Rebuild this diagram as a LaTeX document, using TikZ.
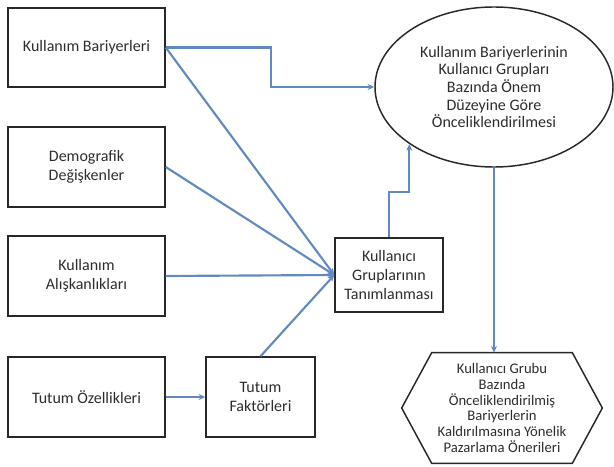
\documentclass[tikz,border=0pt]{standalone}
\usepackage{fontspec}
\setmainfont{Carlito}
\usetikzlibrary{shapes.geometric,arrows.meta}

\definecolor{akis}{RGB}{98,138,192}
\definecolor{cerceve}{RGB}{40,40,40}
\definecolor{yazi}{RGB}{45,45,45}

\tikzset{every picture/.style={line width=0.5pt}}
\tikzset{
  kutu/.style={draw=cerceve,line width=1.1pt,align=center,inner sep=2pt,text=yazi,font=\fontsize{12}{14.5}\selectfont},
  ok/.style={draw=akis,line width=1.6pt,-{Stealth[length=5pt,width=4.5pt]}}
}

\begin{document}
\begin{tikzpicture}[x=0.75pt,y=0.75pt,yscale=-1,xscale=1]
\useasboundingbox (0,0) rectangle (614,467);
% Rectangle
\node [kutu,minimum width=117.75pt,minimum height=59.25pt] (bariyer) at (86.5,47.5) {Kullanım Bariyerleri};
% Rectangle
\node [kutu,minimum width=117.75pt,minimum height=60pt] (demografik) at (86.5,167) {Demografik\\Değişkenler};
% Rectangle
\node [kutu,minimum width=117.75pt,minimum height=60pt] (aliskanlik) at (86.5,276) {Kullanım\\Alışkanlıkları};
% Rectangle
\node [kutu,minimum width=117.75pt,minimum height=60pt] (tutumoz) at (86.5,397) {Tutum Özellikleri};
% Rectangle
\node [kutu,minimum width=81.75pt,minimum height=60pt] (tutumfak) at (260.5,397) {Tutum\\Faktörleri};
% Rectangle
\node [kutu,minimum width=81pt,minimum height=55.5pt] (grup) at (389,275) {Kullanıcı\\Gruplarının\\Tanımlanması};
% Ellipse
\node [kutu,ellipse,inner sep=0pt,minimum width=178.5pt,minimum height=120pt,font=\fontsize{12}{13.2}\selectfont] (oncelik) at (494,87) {Kullanım Bariyerlerinin\\Kullanıcı Grupları\\Bazında Önem\\Düzeyine Göre\\Önceliklendirilmesi};
% Hexagon
\node [align=center,inner sep=0pt,text=yazi,minimum width=150pt,minimum height=82.5pt,font=\fontsize{11}{11.8}\selectfont] (oneri) at (502,408) {Kullanıcı Grubu\\Bazında\\Önceliklendirilmiş\\Bariyerlerin\\Kaldırılmasına Yönelik\\Pazarlama Önerileri};
\draw [cerceve,line width=1.1pt,line join=miter] (oneri.west) -- ([xshift=22.5pt]oneri.north west) -- ([xshift=-22.5pt]oneri.north east) -- (oneri.east) -- ([xshift=-22.5pt]oneri.south east) -- ([xshift=22.5pt]oneri.south west) -- cycle;

% Connectors
\draw [ok] (bariyer.east) -- ++(105,0) |- (oncelik.west);
\draw [ok] (bariyer.east) -- (grup.west);
\draw [ok] (demografik.east) -- (grup.west);
\draw [ok] (aliskanlik.east) -- (grup.west);
\draw [ok] (tutumfak.north) -- (grup.west);
\draw [ok] (tutumoz.east) -- (tutumfak.west);
\draw [ok] (grup.north) -- ++(0,-45) -| (oncelik.south west);
\draw [ok] (oncelik.south) -- (oncelik.south |- oneri.north);
\end{tikzpicture}
\end{document}
